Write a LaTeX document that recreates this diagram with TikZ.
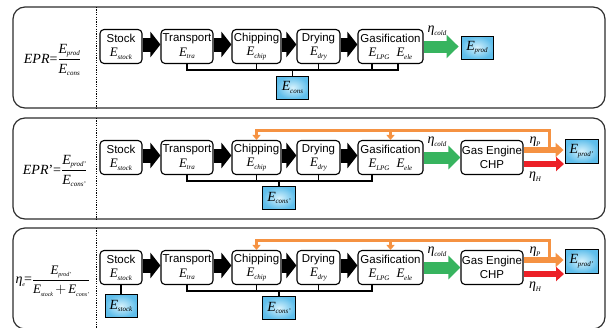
\documentclass[tikz,border=0pt]{standalone}
\usepackage{fontspec}
\setmainfont{Liberation Serif}
\setsansfont{Liberation Sans}
\usetikzlibrary{arrows.meta,positioning,calc}

\definecolor{grnarrow}{RGB}{55,180,95}
\definecolor{orgarrow}{RGB}{245,146,66}
\definecolor{hotred}{RGB}{236,32,39}
\definecolor{valin}{RGB}{215,242,252}
\definecolor{valout}{RGB}{95,190,235}
\definecolor{panelgray}{RGB}{45,45,45}

% symbol with subscript: [size]{symbol}{subscript}
\def\subsz{7}
\newcommand\sym[3][13]{\mbox{{\rmfamily\itshape\fontsize{#1}{#1}\selectfont #2}\kern-0.3pt\raisebox{-2.5pt}{\rmfamily\itshape\fontsize{\subsz}{\subsz}\selectfont #3}}}

\begin{document}
\begin{tikzpicture}[x=1pt,y=-1pt,
  proc/.style={draw,rounded corners=4pt,line width=1.1pt,minimum height=34pt,
    inner sep=0pt,align=center,font=\sffamily\fontsize{11.5}{14.5}\selectfont},
  val/.style={draw,line width=0.9pt,minimum width=32pt,minimum height=23pt,
    inner sep=0pt,inner color=valin,outer color=valout},
  panel/.style={draw=panelgray,line width=1.2pt,rounded corners=12pt},
  sep/.style={line width=1pt,dash pattern=on 1.2pt off 1.2pt},
  blk/.style={line width=14pt,-{Triangle[width=25pt,length=10pt]}},
  grn/.style={grnarrow,line width=12pt,-{Triangle[width=23pt,length=12pt]}},
  org/.style={orgarrow,line width=6pt,-{Triangle[width=14pt,length=8pt]}},
  hot/.style={hotred,line width=6.5pt,-{Triangle[width=14pt,length=8pt]}},
  fbline/.style={orgarrow,line width=3pt},
  fbtip/.style={fbline,-{Triangle[width=8pt,length=5pt]}},
  bus/.style={line width=1.6pt},
  eq/.style={inner sep=0pt,font=\fontsize{14}{16}\selectfont},
  lbl/.style={inner sep=0pt}]

\useasboundingbox (0,0) rectangle (607,327);

% Process chain of one panel
\def\procrow#1{%
  \node[proc,minimum width=42pt] (stock#1) at (121,46.5) {Stock\\\sym{E}{stock}};
  \node[proc,minimum width=52pt] (tra#1) at (187,46.5) {Transport\\\sym{E}{tra}};
  \node[proc,minimum width=49pt] (chip#1) at (256.5,46.5) {Chipping\\\sym{E}{chip}};
  \node[proc,minimum width=43pt] (dry#1) at (318.5,46.5) {Drying\\\sym{E}{dry}};
  \node[proc,minimum width=65pt] (gas#1) at (390.5,46.5) {Gasification\\\sym{E}{LPG}\hspace{7pt}\sym{E}{ele}};
  \foreach \p/\q in {stock/tra,tra/chip,chip/dry,dry/gas}
    \draw[blk] ([yshift=2pt]\p#1.east) -- ([yshift=2pt]\q#1.west);
  \coordinate (bus#1) at (0,70);
  \foreach \p in {chip,dry}
    \draw[bus] (\p#1.south) -- (\p#1.south |- bus#1);
  \node[lbl] (etac#1) at (437,31) {\sym[14]{η}{cold}};
}

% Panel 1: EPR
\draw[panel] (13,7) rectangle (605,108);
\draw[sep] (96,7) -- (96,108);
\node[eq] (eqA) at (52.5,60) {$\displaystyle\mbox{\textit{EPR}=}\frac{\sym[14]{E}{prod}}{\sym[14]{E}{cons}}$};
\procrow{A}
\draw[bus] (traA.south) -- (traA.south |- busA) -| ([xshift=7.5pt]gasA.south);
\draw[bus] ([xshift=-18.5pt]gasA.south) -- ([xshift=-18.5pt]gasA.south |- busA);
\node[val] (consA) at (292.5,87.5) {\sym[14]{E}{cons}};
\draw[bus] (consA.north) -- (consA.north |- busA);
\node[val] (prodA) at (477,47.5) {\sym[14]{E}{prod}};
\draw[grn] (gasA.east) -- ([xshift=-2pt]gasA.east -| prodA.west);

% Panel 2: EPR'
\begin{scope}[yshift=-111pt]
\draw[panel] (13,7) rectangle (605,108);
\draw[sep] (96,7) -- (96,108);
\node[eq] (eqB) at (55,60) {$\displaystyle\mbox{\textit{EPR}'=}\frac{\sym[14]{E}{prod'}}{\sym[14]{E}{cons'}}$};
\procrow{B}
\draw[bus] (traB.south) -- (traB.south |- busB) -| ([xshift=-18.5pt]gasB.south);
\node[val,minimum width=33pt] (consB) at (279,87) {\sym[14]{E}{cons'}};
\draw[bus] (consB.north) -- (consB.north |- busB);
\node[proc,minimum width=62pt] (engB) at (492,46.5) {Gas Engine\\CHP};
\draw[grn] (gasB.east) -- (engB.west);
\node[val,minimum width=33pt,minimum height=24pt] (prodB) at (581.5,40) {\sym[14]{E}{prod'}};
\draw[org] ([yshift=7.5pt]engB.east) -- ([yshift=7.5pt,xshift=-1pt]engB.east -| prodB.west);
\coordinate (hotB) at (564,53);
\draw[hot] (engB.east |- hotB) -- (hotB);
% feedback of heat
\coordinate (tapB) at (549,39);
\coordinate (fbB) at (549,19);
\draw[fbtip] (tapB) -- (fbB) -| (chipB.north);
\draw[fbtip] (gasB.north |- fbB) -- (gasB.north);
\node[lbl] (etaPB) at (535,31) {\sym[14]{η}{P}};
\node[lbl] (etaHB) at (535,66) {\sym[14]{η}{H}};
\end{scope}

% Panel 3: electrical efficiency
\begin{scope}[yshift=-221pt]
\draw[panel] (13,7) rectangle (605,108);
\draw[sep] (96,7) -- (96,108);
\node[eq] (eqC) at (53,60) {\def\subsz{6}$\displaystyle\mbox{\sym[14]{η}{e}\kern-1pt=}\frac{\sym[13]{E}{prod'}}{\sym[13]{E}{stock}\kern-1pt+\kern-1pt\sym[13]{E}{cons'}}$};
\procrow{C}
\draw[bus] (traC.south) -- (traC.south |- busC) -| ([xshift=-18.5pt]gasC.south);
\node[val,minimum width=33pt] (consC) at (279,87) {\sym[14]{E}{cons'}};
\draw[bus] (consC.north) -- (consC.north |- busC);
\node[val] (estC) at (121,85) {\sym[14]{E}{stock}};
\draw[bus] (stockC.south) -- (estC.north);
\node[proc,minimum width=62pt] (engC) at (492,46.5) {Gas Engine\\CHP};
\draw[grn] (gasC.east) -- (engC.west);
\node[val,minimum width=33pt,minimum height=24pt] (prodC) at (581.5,40) {\sym[14]{E}{prod'}};
\draw[org] ([yshift=7.5pt]engC.east) -- ([yshift=7.5pt,xshift=-1pt]engC.east -| prodC.west);
\coordinate (hotC) at (564,53);
\draw[hot] (engC.east |- hotC) -- (hotC);
% feedback of heat
\coordinate (tapC) at (549,39);
\coordinate (fbC) at (549,19);
\draw[fbtip] (tapC) -- (fbC) -| (chipC.north);
\draw[fbtip] (gasC.north |- fbC) -- (gasC.north);
\node[lbl] (etaPC) at (535,31) {\sym[14]{η}{P}};
\node[lbl] (etaHC) at (535,66) {\sym[14]{η}{H}};
\end{scope}

\end{tikzpicture}
\end{document}
